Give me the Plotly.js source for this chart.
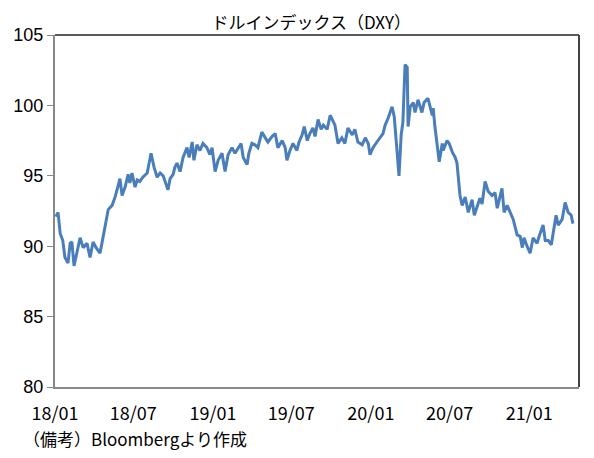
<!DOCTYPE html>
<html>
<head>
<meta charset="utf-8">
<script src="https://cdn.plot.ly/plotly-3.0.1.min.js"></script>
<style>html,body{margin:0;padding:0;background:#fff;}#chart{width:594px;height:458px;}</style>
</head>
<body>
<div id="chart"></div>
<script>
const dates = [
'2018-01-03','2018-01-08','2018-01-13','2018-01-19','2018-01-24','2018-01-31','2018-02-05','2018-02-09','2018-02-14','2018-02-21',
'2018-02-28','2018-03-07','2018-03-16','2018-03-23','2018-03-30','2018-04-06','2018-04-15','2018-04-20','2018-04-27','2018-05-04',
'2018-05-13','2018-05-20','2018-05-27','2018-05-31','2018-06-05','2018-06-12','2018-06-19','2018-06-23','2018-06-28','2018-07-05',
'2018-07-10','2018-07-16','2018-07-23','2018-08-02','2018-08-11','2018-08-18','2018-08-25','2018-09-01','2018-09-08','2018-09-19',
'2018-09-24','2018-10-01','2018-10-05','2018-10-10','2018-10-17','2018-10-24','2018-11-02','2018-11-07','2018-11-14','2018-11-18',
'2018-11-25','2018-12-02','2018-12-09','2018-12-18','2018-12-25','2018-12-30','2019-01-06','2019-01-13','2019-01-22','2019-01-29',
'2019-02-05','2019-02-14','2019-02-21','2019-02-28','2019-03-07','2019-03-12','2019-03-21','2019-03-25','2019-04-01','2019-04-08',
'2019-04-15','2019-04-24','2019-05-01','2019-05-08','2019-05-18','2019-05-25','2019-05-31','2019-06-10','2019-06-17','2019-06-21',
'2019-06-28','2019-07-05','2019-07-14','2019-07-19','2019-07-26','2019-07-31','2019-08-07','2019-08-13','2019-08-20','2019-08-25',
'2019-09-01','2019-09-08','2019-09-13','2019-09-22','2019-09-29','2019-10-06','2019-10-10','2019-10-17','2019-10-26','2019-11-02',
'2019-11-09','2019-11-19','2019-11-25','2019-12-02','2019-12-12','2019-12-19','2019-12-26','2019-12-30','2020-01-06','2020-01-15',
'2020-01-22','2020-01-29','2020-02-03','2020-02-10','2020-02-19','2020-02-24','2020-02-28','2020-03-06','2020-03-11','2020-03-15',
'2020-03-20','2020-03-25','2020-03-27','2020-04-01','2020-04-08','2020-04-12','2020-04-19','2020-04-28','2020-05-03','2020-05-12',
'2020-05-22','2020-05-24','2020-05-28','2020-06-02','2020-06-07','2020-06-14','2020-06-16','2020-06-25','2020-06-30','2020-07-07',
'2020-07-14','2020-07-18','2020-07-25','2020-07-30','2020-08-06','2020-08-13','2020-08-22','2020-08-27','2020-09-03','2020-09-09',
'2020-09-14','2020-09-21','2020-09-28','2020-10-07','2020-10-14','2020-10-19','2020-10-30','2020-11-04','2020-11-11','2020-11-18',
'2020-11-25','2020-12-04','2020-12-11','2020-12-16','2020-12-20','2020-12-27','2021-01-03','2021-01-10','2021-01-19','2021-01-24',
'2021-02-02','2021-02-07','2021-02-14','2021-02-21','2021-02-25','2021-03-04','2021-03-09','2021-03-18','2021-03-25','2021-04-01',
'2021-04-08','2021-04-12'
];
const dxy = [
92.1,92.4,90.9,90.4,89.2,88.8,90.2,90.3,88.6,89.6,
90.6,89.9,90.2,89.2,90.3,89.9,89.5,90.3,91.6,92.6,
92.9,93.5,94.3,94.8,93.6,94.2,95.1,94.5,95.2,94.2,
94.7,94.6,94.9,95.2,96.6,95.6,94.9,95.2,95.0,94.0,
94.8,95.1,95.6,95.9,95.3,96.3,97.0,96.3,97.4,96.1,
97.2,96.8,97.3,97.0,96.5,97.0,95.3,96.1,96.6,95.3,
96.5,97.0,96.6,97.0,97.3,96.3,95.8,96.6,97.3,97.2,
97.0,98.1,97.7,97.4,97.8,98.0,97.0,97.5,97.0,96.1,
96.8,97.3,96.8,97.4,97.9,98.5,97.5,98.0,98.4,97.8,
99.0,98.3,98.6,98.3,99.3,98.8,98.6,97.3,97.7,97.3,
98.4,97.9,98.3,97.4,97.2,97.7,97.3,96.5,97.0,97.4,
97.7,98.0,98.6,99.1,99.9,99.2,97.7,95.0,97.9,98.8,
102.9,102.7,98.5,99.9,100.2,99.5,100.4,99.5,100.2,100.5,
99.3,99.8,98.5,97.0,96.0,97.3,96.8,97.5,97.3,96.7,
96.3,95.9,93.6,92.9,93.5,92.4,93.3,92.2,92.9,93.4,
93.0,94.6,93.9,93.6,93.8,92.7,94.1,92.4,92.9,92.4,
91.9,90.8,90.7,89.9,90.6,90.0,89.5,90.6,90.2,90.7,
91.5,90.4,90.4,90.1,90.9,92.2,91.5,91.9,93.1,92.4,
92.2,91.6
];
const tickDates = ['2018-01-01','2018-07-01','2019-01-01','2019-07-01','2020-01-01','2020-07-01','2021-01-01'];
const tickLabels = ['18/01','18/07','19/01','19/07','20/01','20/07','21/01'];
const yTicks = [80,85,90,95,100,105];

const trace = {
  x: dates, y: dxy, type: 'scatter', mode: 'lines',
  line: {color: '#4a7ebb', width: 3}, hoverinfo: 'skip'
};
const layout = {
  width: 594, height: 458,
  margin: {l: 55, r: 15, t: 35, b: 71},
  paper_bgcolor: '#fff', plot_bgcolor: '#fff',
  showlegend: false,
  title: {text: 'ドルインデックス（DXY）', x: 0.489, xref: 'paper', xanchor: 'center', y: 0.962, yref: 'container',
          font: {family: '"Noto Sans CJK JP", sans-serif', size: 17, color: '#000'}},
  xaxis: {
    type: 'date', range: ['2018-01-01', '2021-04-26'],
    tickmode: 'array', tickvals: tickDates, ticktext: tickLabels,
    showgrid: false, zeroline: false, showline: true, linecolor: '#888', linewidth: 2,
    ticks: 'outside', ticklen: 9, tickcolor: 'rgba(0,0,0,0)',
    tickfont: {family: '"Noto Sans CJK JP", sans-serif', size: 18, color: '#000'},
    fixedrange: true
  },
  yaxis: {
    range: [80, 105], tickmode: 'array', tickvals: yTicks,
    showgrid: false, zeroline: false, showline: true, linecolor: '#888', linewidth: 2,
    ticks: 'outside', ticklen: 6, tickcolor: '#888', tickwidth: 1,
    tickfont: {family: '"Liberation Sans", Arial, sans-serif', size: 18, color: '#000'},
    fixedrange: true
  },
  shapes: [
    {type: 'line', xref: 'paper', yref: 'paper', x0: 0, x1: 1, y0: 1, y1: 1, line: {color: '#222', width: 1.5}},
    {type: 'line', xref: 'paper', yref: 'paper', x0: 1, x1: 1, y0: 0, y1: 1, line: {color: '#444', width: 2}}
  ],
  annotations: [
    {text: '（備考）Bloombergより作成', xref: 'paper', yref: 'paper', x: -0.065, y: -0.106,
     xanchor: 'left', yanchor: 'top', showarrow: false,
     font: {family: '"Noto Sans CJK JP", sans-serif', size: 17, color: '#000'}}
  ]
};
Plotly.newPlot('chart', [trace], layout, {displayModeBar: false, staticPlot: true});
</script>
</body>
</html>
